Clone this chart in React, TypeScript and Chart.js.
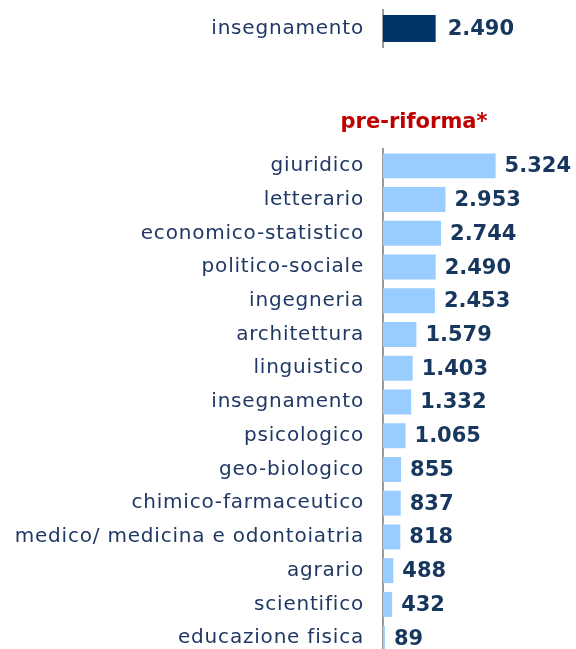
import React, { useEffect, useRef } from "react";
import { Chart, registerables } from "chart.js";

Chart.register(...registerables);

const topCategories = ["insegnamento"];
const topValues = [2490];

const headerLabel = "pre-riforma*";
const preCategories = [
  "giuridico",
  "letterario",
  "economico-statistico",
  "politico-sociale",
  "ingegneria",
  "architettura",
  "linguistico",
  "insegnamento",
  "psicologico",
  "geo-biologico",
  "chimico-farmaceutico",
  "medico/ medicina e odontoiatria",
  "agrario",
  "scientifico",
  "educazione fisica",
];
const preValues = [5324, 2953, 2744, 2490, 2453, 1579, 1403, 1332, 1065, 855, 837, 818, 488, 432, 89];

const X_MAX = 8700;
const FONT = '"DejaVu Sans", Verdana, sans-serif';
const LABEL_COLOR = "#1F3864";
const VALUE_COLOR = "#17375E";

function fmt(v: number): string {
  const s = String(Math.round(v));
  return s.replace(/\B(?=(\d{3})+(?!\d))/g, ".");
}

const letterSpacingPlugin = {
  id: "letterSpacing",
  beforeDraw(chart: any) {
    (chart.ctx as any).letterSpacing = "0.8px";
  },
  afterDatasetsDraw(chart: any) {
    (chart.ctx as any).letterSpacing = "0px";
  },
};

const valueLabelsPlugin = {
  id: "valueLabels",
  afterDatasetsDraw(chart: any) {
    const ctx = chart.ctx;
    const meta = chart.getDatasetMeta(0);
    const data = chart.data.datasets[0].data as number[];
    const gap = chart.options.plugins.header?.gap ?? 10;
    ctx.save();
    (ctx as any).letterSpacing = "0px";
    ctx.font = `bold 21px ${FONT}`;
    ctx.fillStyle = VALUE_COLOR;
    ctx.textAlign = "left";
    ctx.textBaseline = "middle";
    meta.data.forEach((bar: any, i: number) => {
      ctx.fillText(fmt(data[i]), bar.x + gap, bar.y + 1);
    });
    ctx.restore();
  },
};

const headerPlugin = {
  id: "header",
  afterDraw(chart: any) {
    const opts = chart.options.plugins.header;
    if (!opts || !opts.text) return;
    const ctx = chart.ctx;
    ctx.save();
    (ctx as any).letterSpacing = "0px";
    ctx.font = `bold 21px ${FONT}`;
    ctx.fillStyle = "#C00000";
    ctx.textAlign = "center";
    ctx.textBaseline = "middle";
    ctx.fillText(opts.text, chart.chartArea.left + 31, chart.chartArea.top - 26);
    ctx.restore();
  },
};

function makeConfig(
  labels: string[],
  values: number[],
  color: string,
  barPct: number,
  padTop: number,
  padBottom: number,
  gap: number,
  header?: string
): any {
  return {
    type: "bar",
    data: {
      labels,
      datasets: [
        {
          data: values,
          backgroundColor: color,
          borderWidth: 0,
          barPercentage: barPct,
          categoryPercentage: 1,
        },
      ],
    },
    options: {
      indexAxis: "y",
      animation: false,
      responsive: false,
      maintainAspectRatio: false,
      layout: { padding: { top: padTop, bottom: padBottom, left: 0, right: 9 } },
      plugins: {
        legend: { display: false },
        tooltip: { enabled: false },
        title: { display: false },
        header: { text: header || "", gap },
      },
      scales: {
        x: { display: false, min: 0, max: X_MAX },
        y: {
          grid: { display: false, drawTicks: false },
          border: { display: true, color: "#9A9A9A", width: 2 },
          ticks: {
            color: LABEL_COLOR,
            font: { family: FONT, size: 20 },
            padding: 19,
          },
          afterFit(scale: any) {
            scale.width = 383;
            scale.paddingTop = 0;
            scale.paddingBottom = 0;
          },
        },
      },
    },
    plugins: [letterSpacingPlugin, valueLabelsPlugin, headerPlugin],
  };
}

function BarCanvas(props: { config: () => any; width: number; height: number; top: number }) {
  const ref = useRef<HTMLCanvasElement | null>(null);
  useEffect(() => {
    if (!ref.current) return;
    const chart = new Chart(ref.current, props.config());
    return () => chart.destroy();
  }, []);
  return (
    <canvas
      ref={ref}
      width={props.width}
      height={props.height}
      style={{ position: "absolute", left: 0, top: props.top, width: props.width, height: props.height }}
    />
  );
}

export default function App() {
  return (
    <div
      style={{
        position: "fixed",
        left: 0,
        top: 0,
        width: 576,
        height: 649,
        overflow: "hidden",
        background: "#ffffff",
      }}
    >
      <BarCanvas
        width={576}
        height={57}
        top={0}
        config={() => makeConfig(topCategories, topValues, "#003366", 0.73, 10, 10, 12)}
      />
      <BarCanvas
        width={576}
        height={560}
        top={100}
        config={() => makeConfig(preCategories, preValues, "#99CCFF", 0.74, 49, 5, 9, headerLabel)}
      />
    </div>
  );
}
